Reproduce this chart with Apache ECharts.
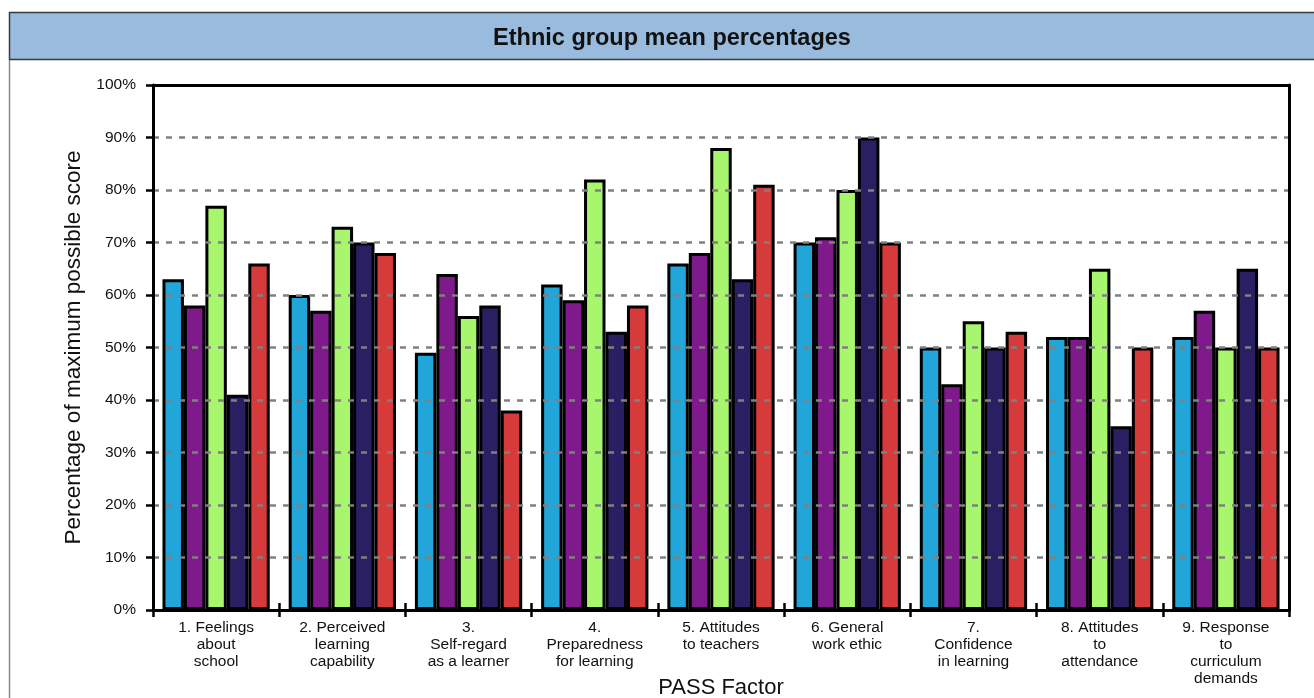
<!DOCTYPE html>
<html>
<head>
<meta charset="utf-8">
<script src="https://cdn.jsdelivr.net/npm/echarts@6/dist/echarts.min.js"></script>
<style>
html,body{margin:0;padding:0;background:#fff;}
#chart{width:1314px;height:698px;}
</style>
</head>
<body>
<div id="chart"></div>
<script>
const categories = [
  "1. Feelings\nabout\nschool",
  "2. Perceived\nlearning\ncapability",
  "3.\nSelf-regard\nas a learner",
  "4.\nPreparedness\nfor learning",
  "5. Attitudes\nto teachers",
  "6. General\nwork ethic",
  "7.\nConfidence\nin learning",
  "8. Attitudes\nto\nattendance",
  "9. Response\nto\ncurriculum\ndemands"
];
const seriesNames = ["Group 1", "Group 2", "Group 3", "Group 4", "Group 5"];
const seriesColors = ["#22A6DA", "#7F1A8C", "#A8F56E", "#2A1F63", "#D63A3A"];
const group1Values = [63, 60, 49, 62, 66, 70, 50, 52, 52];
const group2Values = [58, 57, 64, 59, 68, 71, 43, 52, 57];
const group3Values = [77, 73, 56, 82, 88, 80, 55, 65, 50];
const group4Values = [41, 70, 58, 53, 63, 90, 50, 35, 65];
const group5Values = [66, 68, 38, 58, 81, 70, 53, 50, 50];
const allValues = [group1Values, group2Values, group3Values, group4Values, group5Values];

const FONT = "'Liberation Sans', Arial, sans-serif";
const chart = echarts.init(document.getElementById('chart'), null, {renderer: 'canvas'});

const option = {
  animation: false,
  backgroundColor: '#ffffff',
  graphic: [
    {type: 'rect', z: -10, shape: {x: 9.5, y: 12.5, width: 1320, height: 47}, style: {fill: '#99BBDD', stroke: '#3a3a3a', lineWidth: 1.5}},
    {type: 'line', z: -10, shape: {x1: 9.5, y1: 60, x2: 9.5, y2: 698}, style: {stroke: '#8a8a8a', lineWidth: 1.5}}
  ],
  title: [
    {
      text: 'Ethnic group mean percentages',
      left: 667,
      textAlign: 'center',
      top: 22,
      textStyle: {fontFamily: FONT, fontSize: 23.5, fontWeight: 'bold', color: '#111'}
    },
    {
      text: 'PASS Factor',
      left: 721,
      textAlign: 'center',
      top: 677,
      padding: 0,
      textStyle: {fontFamily: FONT, fontSize: 22, fontWeight: 'normal', color: '#111'}
    }
  ],
  grid: {
    left: 153, right: 25, top: 85, bottom: 88,
    containLabel: false,
    outerBoundsMode: 'none',
    show: false
  },
  xAxis: [
    {
      type: 'category',
      data: categories,
      axisLine: {show: true, lineStyle: {color: '#000', width: 3}},
      axisTick: {show: true, length: 7, lineStyle: {color: '#000', width: 2.5}},
      axisLabel: {fontFamily: FONT, fontSize: 15.5, color: '#111', lineHeight: 17, margin: 9, interval: 0},
      z: 5
    },
    {
      type: 'category',
      data: categories,
      position: 'bottom',
      axisLine: {show: false},
      axisTick: {show: true, inside: true, length: 7, lineStyle: {color: '#000', width: 2.5}},
      axisLabel: {show: false},
      z: 5
    },
    {
      type: 'category',
      data: categories,
      position: 'top',
      axisLine: {show: true, lineStyle: {color: '#000', width: 3}},
      axisTick: {show: false},
      axisLabel: {show: false},
      z: 5
    }
  ],
  yAxis: [
    {
      type: 'value',
      min: 0, max: 100, interval: 10,
      name: 'Percentage of maximum possible score',
      nameLocation: 'middle',
      nameGap: 68,
      nameTextStyle: {fontFamily: FONT, fontSize: 22.5, color: '#111'},
      axisLine: {show: true, lineStyle: {color: '#000', width: 3}},
      axisTick: {show: true, length: 7, lineStyle: {color: '#000', width: 2.5}},
      axisLabel: {fontFamily: FONT, fontSize: 15.5, color: '#111', margin: 17, formatter: '{value}%'},
      splitLine: {show: true, lineStyle: {color: '#808080', width: 2.5, type: [6, 7]}},
      z: 5
    },
    {
      type: 'value',
      min: 0, max: 100, interval: 10,
      position: 'right',
      axisLine: {show: true, lineStyle: {color: '#000', width: 3}},
      axisTick: {show: false},
      axisLabel: {show: false},
      splitLine: {show: false},
      z: 5
    }
  ],
  series: seriesNames.map((n, i) => ({
    name: n,
    type: 'bar',
    data: allValues[i],
    xAxisIndex: 0,
    yAxisIndex: 0,
    barGap: '0%',
    barCategoryGap: '15%',
    itemStyle: {color: seriesColors[i], borderColor: '#000', borderWidth: 3}
  }))
};
chart.setOption(option);
</script>
</body>
</html>
